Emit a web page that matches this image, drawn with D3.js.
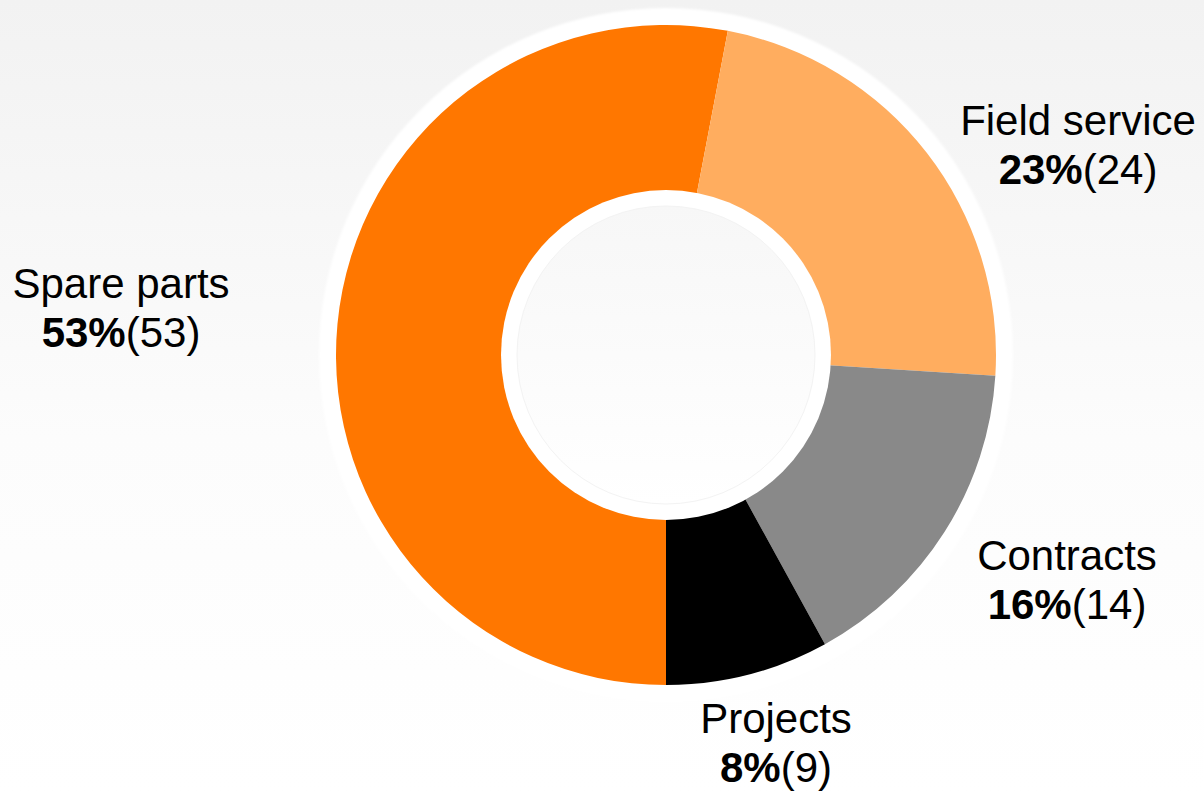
<!DOCTYPE html>
<html>
<head>
<meta charset="utf-8">
<script src="https://cdn.jsdelivr.net/npm/d3@7"></script>
<style>
  html, body { margin: 0; padding: 0; background: #fff; }
  svg { display: block; }
</style>
</head>
<body>
<svg id="chart" width="1204" height="794"></svg>
<script>
// ---- data ----
const categories = ["Spare parts", "Field service", "Contracts", "Projects"];
const percents   = [53, 23, 16, 8];
const counts     = [53, 24, 14, 9];

// ---- layout / style (kept separate from data) ----
const colors = ["#FF7700", "#FFAD5F", "#898989", "#000000"];
const labelOffsets = [[-545, -49], [412, -212], [401, 223], [110, 386]];

const W = 1204, H = 794;
const cx = 666, cy = 355;
const rOuter = 330, rInner = 165;

const svg = d3.select("#chart");
const defs = svg.append("defs");

const bg = defs.append("linearGradient").attr("id", "bg").attr("x1", 0).attr("y1", 0).attr("x2", 0).attr("y2", 1);
bg.append("stop").attr("offset", "0%").attr("stop-color", "#f2f2f2");
bg.append("stop").attr("offset", "55%").attr("stop-color", "#fcfcfc");
bg.append("stop").attr("offset", "100%").attr("stop-color", "#ffffff");

const inner = defs.append("linearGradient").attr("id", "inner").attr("x1", 0).attr("y1", 0).attr("x2", 0).attr("y2", 1);
inner.append("stop").attr("offset", "0%").attr("stop-color", "#f7f7f7");
inner.append("stop").attr("offset", "100%").attr("stop-color", "#ffffff");

const blur = defs.append("filter").attr("id", "soft").attr("x", "-10%").attr("y", "-10%").attr("width", "120%").attr("height", "120%");
blur.append("feGaussianBlur").attr("stdDeviation", 1.2);

svg.append("rect").attr("width", W).attr("height", H).attr("fill", "url(#bg)");

const g = svg.append("g").attr("transform", `translate(${cx},${cy})`);

// white halo ring behind pie
g.append("circle").attr("r", rOuter + 17).attr("fill", "#ffffff").attr("filter", "url(#soft)");

const pie = d3.pie().sort(null).value(d => d.p).startAngle(Math.PI).endAngle(3 * Math.PI);
const data = categories.map((c, i) => ({ name: c, p: percents[i], n: counts[i], color: colors[i], off: labelOffsets[i] }));
const arcs = pie(data);
const arc = d3.arc().innerRadius(rInner - 2).outerRadius(rOuter);

g.selectAll("path.slice").data(arcs).join("path")
  .attr("class", "slice")
  .attr("d", arc)
  .attr("fill", d => d.data.color);

// inner white ring + inner disc
g.append("circle").attr("r", rInner).attr("fill", "#ffffff");
g.append("circle").attr("r", rInner - 16).attr("fill", "url(#inner)").attr("stroke", "#f3f3f3").attr("stroke-width", 1);

// labels
const labels = g.selectAll("g.label").data(arcs).join("g")
  .attr("class", "label")
  .attr("transform", d => `translate(${d.data.off[0]},${d.data.off[1]})`)
  .attr("font-family", "Liberation Sans, Arial, sans-serif")
  .attr("font-size", 42)
  .attr("fill", "#000")
  .attr("text-anchor", "middle");

labels.append("text").attr("y", -8).text(d => d.data.name);
const t2 = labels.append("text").attr("y", 41);
t2.append("tspan").attr("font-weight", "bold").text(d => d.data.p + "%");
t2.append("tspan").text(d => "(" + d.data.n + ")");
</script>
</body>
</html>
